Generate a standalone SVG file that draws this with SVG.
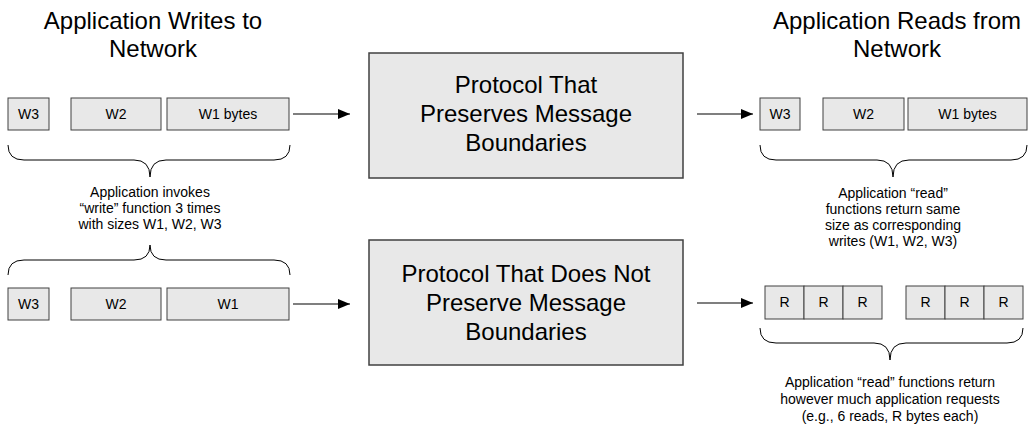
<svg xmlns="http://www.w3.org/2000/svg" width="1032" height="425" viewBox="0 0 1032 425">
<defs>
<marker id="ah" viewBox="0 0 12 10" refX="12" refY="5" markerWidth="12" markerHeight="10" markerUnits="userSpaceOnUse" orient="auto">
<path d="M0,0 L12,5 L0,10 Z" fill="#000"/>
</marker>
<style>
text{font-family:"Liberation Sans",Arial,sans-serif;fill:#000;text-anchor:middle}
.title{font-size:24px}
.big{font-size:24px}
.lbl{font-size:14px}
.note{font-size:14px}
.seg{fill:#e8e8e8;stroke:#404040;stroke-width:1}
.proto{fill:#e8e8e8;stroke:#404040;stroke-width:1.5}
.brace{fill:none;stroke:#000;stroke-width:1}
.arrow{fill:none;stroke:#000;stroke-width:1.2;marker-end:url(#ah)}
</style>
</defs>
<rect width="1032" height="425" fill="#fff"/>

<g id="title-writes">
<text class="title" x="153" y="29">Application Writes to</text>
<text class="title" x="153" y="57">Network</text>
</g>
<g id="title-reads">
<text class="title" x="897" y="29">Application Reads from</text>
<text class="title" x="897" y="57">Network</text>
</g>

<g id="writes-top">
<rect class="seg" x="8" y="98" width="41" height="32"/>
<text class="lbl" x="28.5" y="119">W3</text>
<rect class="seg" x="71" y="98" width="90" height="32"/>
<text class="lbl" x="116" y="119">W2</text>
<rect class="seg" x="167" y="98" width="122" height="32"/>
<text class="lbl" x="228" y="119">W1 bytes</text>
</g>

<g id="writes-bottom">
<rect class="seg" x="8" y="288" width="41" height="32"/>
<text class="lbl" x="28.5" y="309">W3</text>
<rect class="seg" x="71" y="288" width="90" height="32"/>
<text class="lbl" x="116" y="309">W2</text>
<rect class="seg" x="167" y="288" width="122" height="32"/>
<text class="lbl" x="228" y="309">W1</text>
</g>

<g id="brace-writes">
<path class="brace" d="M8,145 Q8,160 24,160 L134,160 Q150,160 150,177 Q150,160 166,160 L274,160 Q290,160 290,145"/>
<path class="brace" d="M8,275 Q8,260 24,260 L134,260 Q150,260 150,245 Q150,260 166,260 L274,260 Q290,260 290,275"/>
<text class="note" x="150" y="197">Application invokes</text>
<text class="note" x="150" y="213">“write” function 3 times</text>
<text class="note" x="150" y="229">with sizes W1, W2, W3</text>
</g>

<g id="protocol-preserves">
<rect class="proto" x="369" y="53" width="314" height="125"/>
<text class="big" x="526" y="93">Protocol That</text>
<text class="big" x="526" y="122">Preserves Message</text>
<text class="big" x="526" y="151">Boundaries</text>
</g>

<g id="protocol-not-preserves">
<rect class="proto" x="369" y="240" width="314" height="125"/>
<text class="big" x="526" y="282">Protocol That Does Not</text>
<text class="big" x="526" y="311">Preserve Message</text>
<text class="big" x="526" y="340">Boundaries</text>
</g>

<g id="reads-top">
<rect class="seg" x="760" y="98" width="40" height="32"/>
<text class="lbl" x="780" y="119">W3</text>
<rect class="seg" x="823" y="98" width="81" height="32"/>
<text class="lbl" x="863.5" y="119">W2</text>
<rect class="seg" x="908" y="98" width="119" height="32"/>
<text class="lbl" x="967.5" y="119">W1 bytes</text>
<path class="brace" d="M760,145 Q760,160 776,160 L877,160 Q893,160 893,177 Q893,160 909,160 L1011,160 Q1027,160 1027,145"/>
<text class="note" x="893" y="198">Application “read”</text>
<text class="note" x="893" y="214">functions return same</text>
<text class="note" x="893" y="230">size as corresponding</text>
<text class="note" x="893" y="246">writes (W1, W2, W3)</text>
</g>

<g id="reads-bottom">
<rect class="seg" x="765" y="286" width="39" height="33"/>
<text class="lbl" x="784.5" y="307">R</text>
<rect class="seg" x="804" y="286" width="39" height="33"/>
<text class="lbl" x="823.5" y="307">R</text>
<rect class="seg" x="843" y="286" width="39" height="33"/>
<text class="lbl" x="862.5" y="307">R</text>
<rect class="seg" x="906" y="286" width="39" height="33"/>
<text class="lbl" x="925.5" y="307">R</text>
<rect class="seg" x="945" y="286" width="39" height="33"/>
<text class="lbl" x="964.5" y="307">R</text>
<rect class="seg" x="984" y="286" width="39" height="33"/>
<text class="lbl" x="1003.5" y="307">R</text>
<path class="brace" d="M760,328 Q760,343 776,343 L874,343 Q890,343 890,360 Q890,343 906,343 L1007,343 Q1023,343 1023,328"/>
<text class="note" x="890" y="387">Application “read” functions return</text>
<text class="note" x="890" y="404">however much application requests</text>
<text class="note" x="890" y="421">(e.g., 6 reads, R bytes each)</text>
</g>

<g id="connectors">
<line class="arrow" x1="293" y1="114" x2="350" y2="114"/>
<line class="arrow" x1="697" y1="114" x2="753" y2="114"/>
<line class="arrow" x1="293" y1="304" x2="350" y2="304"/>
<line class="arrow" x1="697" y1="303" x2="753" y2="303"/>
</g>
</svg>
